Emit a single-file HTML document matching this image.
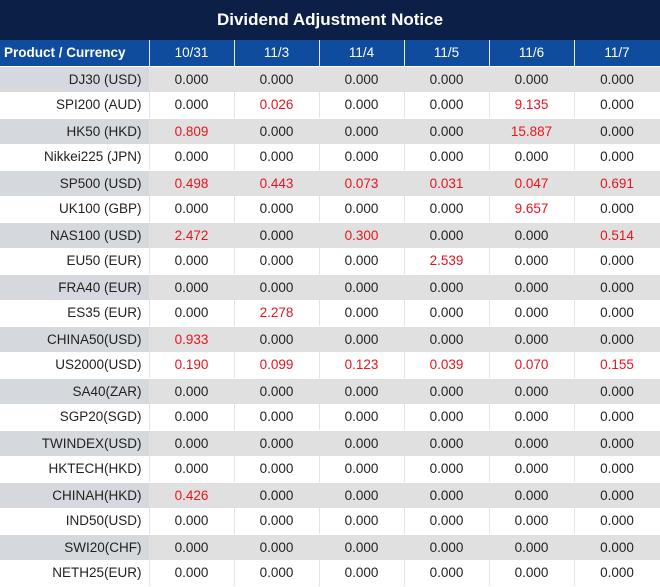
<!DOCTYPE html>
<html><head><meta charset="utf-8"><style>
body{margin:0;width:660px;height:587px;overflow:hidden;background:#fff;font-family:"Liberation Sans","DejaVu Sans",sans-serif;}
.title{position:absolute;left:0;top:0;width:660px;height:40px;background:#0b1f47;color:#fff;font-weight:bold;font-size:17px;line-height:40px;text-align:center;}
table{position:absolute;left:0;top:40px;border-collapse:collapse;table-layout:fixed;width:660px;}
td{height:26px;padding:0;font-size:13.5px;text-align:center;color:#222;border-right:1px solid #e3e3e3;box-sizing:border-box;}
td.p{text-align:right;padding-right:7px;}
tr.h td{background:#0f4c9e;color:#fff;border-right:1px solid #e8eef7;border-bottom:1px solid #fff;font-size:13.5px;}
tr.h td.p{text-align:left;padding-left:4px;font-weight:bold;}
tr.g td{background:#e0e0e0;border-right-color:#e0e0e0;}
tr.g td.p{background:#d5d8dc;}
tr.w td{border-bottom:1px solid #fff;}
.r{color:#e8141e;}
</style></head><body>
<div class="title">Dividend Adjustment Notice</div>
<table>
<colgroup><col style="width:149px"><col style="width:85px"><col style="width:85px"><col style="width:85px"><col style="width:85px"><col style="width:85px"><col style="width:86px"></colgroup>
<tr class="h"><td class="p">Product / Currency</td><td>10/31</td><td>11/3</td><td>11/4</td><td>11/5</td><td>11/6</td><td>11/7</td></tr>
<tr class="g"><td class="p">DJ30 (USD)</td><td>0.000</td><td>0.000</td><td>0.000</td><td>0.000</td><td>0.000</td><td>0.000</td></tr>
<tr class="w"><td class="p">SPI200 (AUD)</td><td>0.000</td><td class="r">0.026</td><td>0.000</td><td>0.000</td><td class="r">9.135</td><td>0.000</td></tr>
<tr class="g"><td class="p">HK50 (HKD)</td><td class="r">0.809</td><td>0.000</td><td>0.000</td><td>0.000</td><td class="r">15.887</td><td>0.000</td></tr>
<tr class="w"><td class="p">Nikkei225 (JPN)</td><td>0.000</td><td>0.000</td><td>0.000</td><td>0.000</td><td>0.000</td><td>0.000</td></tr>
<tr class="g"><td class="p">SP500 (USD)</td><td class="r">0.498</td><td class="r">0.443</td><td class="r">0.073</td><td class="r">0.031</td><td class="r">0.047</td><td class="r">0.691</td></tr>
<tr class="w"><td class="p">UK100 (GBP)</td><td>0.000</td><td>0.000</td><td>0.000</td><td>0.000</td><td class="r">9.657</td><td>0.000</td></tr>
<tr class="g"><td class="p">NAS100 (USD)</td><td class="r">2.472</td><td>0.000</td><td class="r">0.300</td><td>0.000</td><td>0.000</td><td class="r">0.514</td></tr>
<tr class="w"><td class="p">EU50 (EUR)</td><td>0.000</td><td>0.000</td><td>0.000</td><td class="r">2.539</td><td>0.000</td><td>0.000</td></tr>
<tr class="g"><td class="p">FRA40 (EUR)</td><td>0.000</td><td>0.000</td><td>0.000</td><td>0.000</td><td>0.000</td><td>0.000</td></tr>
<tr class="w"><td class="p">ES35 (EUR)</td><td>0.000</td><td class="r">2.278</td><td>0.000</td><td>0.000</td><td>0.000</td><td>0.000</td></tr>
<tr class="g"><td class="p">CHINA50(USD)</td><td class="r">0.933</td><td>0.000</td><td>0.000</td><td>0.000</td><td>0.000</td><td>0.000</td></tr>
<tr class="w"><td class="p">US2000(USD)</td><td class="r">0.190</td><td class="r">0.099</td><td class="r">0.123</td><td class="r">0.039</td><td class="r">0.070</td><td class="r">0.155</td></tr>
<tr class="g"><td class="p">SA40(ZAR)</td><td>0.000</td><td>0.000</td><td>0.000</td><td>0.000</td><td>0.000</td><td>0.000</td></tr>
<tr class="w"><td class="p">SGP20(SGD)</td><td>0.000</td><td>0.000</td><td>0.000</td><td>0.000</td><td>0.000</td><td>0.000</td></tr>
<tr class="g"><td class="p">TWINDEX(USD)</td><td>0.000</td><td>0.000</td><td>0.000</td><td>0.000</td><td>0.000</td><td>0.000</td></tr>
<tr class="w"><td class="p">HKTECH(HKD)</td><td>0.000</td><td>0.000</td><td>0.000</td><td>0.000</td><td>0.000</td><td>0.000</td></tr>
<tr class="g"><td class="p">CHINAH(HKD)</td><td class="r">0.426</td><td>0.000</td><td>0.000</td><td>0.000</td><td>0.000</td><td>0.000</td></tr>
<tr class="w"><td class="p">IND50(USD)</td><td>0.000</td><td>0.000</td><td>0.000</td><td>0.000</td><td>0.000</td><td>0.000</td></tr>
<tr class="g"><td class="p">SWI20(CHF)</td><td>0.000</td><td>0.000</td><td>0.000</td><td>0.000</td><td>0.000</td><td>0.000</td></tr>
<tr class="w"><td class="p">NETH25(EUR)</td><td>0.000</td><td>0.000</td><td>0.000</td><td>0.000</td><td>0.000</td><td>0.000</td></tr>
</table>
</body></html>
